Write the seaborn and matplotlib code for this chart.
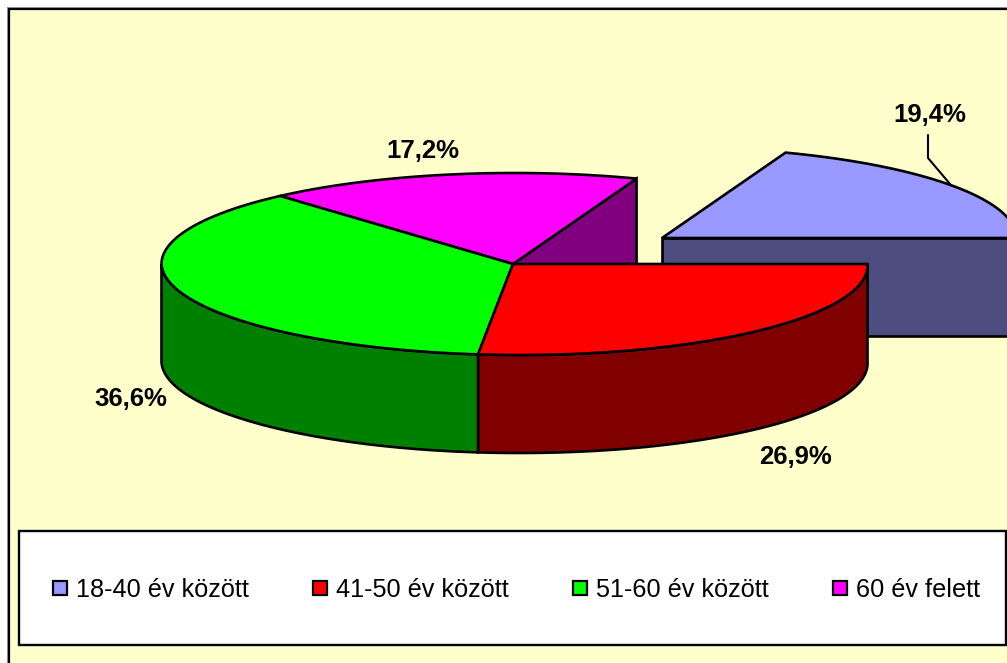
import numpy as np
import matplotlib
matplotlib.use("Agg")
import matplotlib.pyplot as plt
from matplotlib.patches import Rectangle
import seaborn as sns

categories = ['18-40 év között', '41-50 év között', '51-60 év között', '60 év felett']
shares = [19.4, 26.9, 36.6, 17.2]
labels = ['19,4%', '26,9%', '36,6%', '17,2%']

top_colors = ['#9999FF', '#FF0000', '#00FF00', '#FF00FF']
side_colors = ['#4D4D80', '#800000', '#008000', '#800080']

sns.set_theme(style="white")
plt.rcParams['font.family'] = ['Liberation Sans', 'DejaVu Sans']

W, H = 1007, 663
fig = plt.figure(figsize=(W / 100, H / 100), dpi=100, facecolor='white')
ax = fig.add_axes([0, 0, 1, 1])
ax.set_xlim(0, W)
ax.set_ylim(H, 0)
ax.axis('off')

# pie geometry in pixels
apex_x, apex_y = 513, 264
rim_x = 514.5
rx, ry = 353, 91
depth = 98
front_skew = 0.055
blue_dx, blue_dy = 149, -26
lw = 1.9

# slices run clockwise, starting at 3 o'clock with the first one going backwards
sweep = np.array(shares) / sum(shares) * 360
ends = np.cumsum(np.r_[0, sweep[1:]])
starts = np.r_[-sweep[0], ends[:-1]]
ends = np.r_[0, ends[1:]]


def rim(a0, a1, dx=0, dy=0):
    t = np.radians(np.linspace(a0, a1, 120))
    ys = ry * np.sin(t)
    xs = rx * np.cos(t) + np.where(ys > 0, ys * front_skew, 0)
    return rim_x + xs + dx, apex_y + ys + dy


def top(i, dx=0, dy=0):
    xs, ys = rim(starts[i], ends[i], dx, dy)
    ax.fill(np.r_[apex_x + dx, xs], np.r_[apex_y + dy, ys], facecolor=top_colors[i],
            edgecolor='black', lw=lw, joinstyle='miter', zorder=3)


def wall(i, a0, a1, dx=0, dy=0):
    xs, ys = rim(a0, a1, dx, dy)
    ax.fill(np.r_[xs, xs[::-1]], np.r_[ys, ys[::-1] + depth], facecolor=side_colors[i],
            edgecolor='black', lw=lw, zorder=2)


# background and frame
ax.add_patch(Rectangle((9, 9), W, H, facecolor='#FFFFCC', edgecolor='black', lw=1.6, zorder=0))
ax.plot([7, 7], [7, H], color='#8a8a8a', lw=0.7, zorder=0)
ax.plot([7, W], [7, 7], color='#8a8a8a', lw=0.7, zorder=0)

# exploded slice, behind everything
bx, by = apex_x + blue_dx, apex_y + blue_dy
ax.fill([bx, W + 20, W + 20, bx], [by, by, by + depth, by + depth], facecolor=side_colors[0],
        edgecolor='black', lw=lw, zorder=1)
xs, ys = rim(starts[0], ends[0], blue_dx, blue_dy)
ax.fill(np.r_[bx, xs], np.r_[by, ys], facecolor=top_colors[0], edgecolor='black', lw=lw, zorder=1)

# cut face of the last slice, visible because the first one is pulled out
xs, ys = rim(ends[3], ends[3])
ax.fill([apex_x, xs[0], xs[0], apex_x], [apex_y, ys[0], ys[0] + depth, apex_y + depth],
        facecolor=side_colors[3], edgecolor='black', lw=lw, zorder=1)

# outer walls of the front half
wall(1, 0, sweep[1])
wall(2, sweep[1], 180)

for i in [3, 2, 1]:
    top(i)

# leader line
ax.plot([928, 928, 950], [135, 158, 184], color='black', lw=1.5, zorder=4)

# value labels
label_x = [930, 796, 131, 423]
label_y = [115.5, 456.5, 398.5, 151.5]
for x, y, s in zip(label_x, label_y, labels):
    ax.text(x, y, s, fontsize=18.5, fontweight='bold', color='black', ha='center', va='center', zorder=5)

# legend
ax.add_patch(Rectangle((19, 531), W - 20, 114, facecolor='white', edgecolor='black', lw=1.7, zorder=3))
swatch_x = [53, 313, 573, 833]
for x, c, s in zip(swatch_x, top_colors, categories):
    ax.add_patch(Rectangle((x, 581), 14, 14, facecolor=c, edgecolor='black', lw=1.6, zorder=4))
    ax.text(x + 23, 590, s, fontsize=18.2, color='black', ha='left', va='center', zorder=4)

fig.savefig("out.png", dpi=100)
